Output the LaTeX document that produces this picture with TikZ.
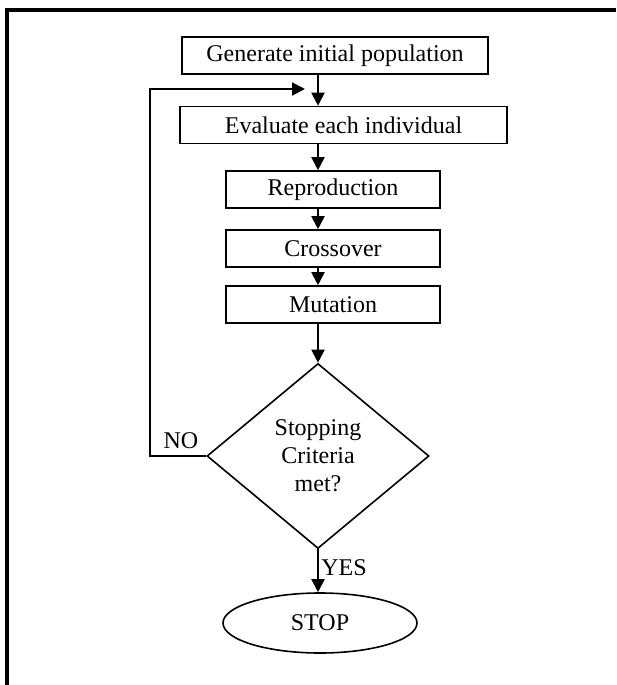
\documentclass[tikz,border=0pt]{standalone}
\usepackage{fontspec}
\setmainfont{Liberation Serif}
\usetikzlibrary{arrows.meta,shapes.geometric}

\begin{document}
\begin{tikzpicture}[x=0.5pt,y=-0.5pt,>={Triangle[length=6.5pt,width=6.5pt]},
  every node/.style={font=\fontsize{12}{14}\selectfont},
  stepbox/.style={draw,line width=0.8pt,inner sep=0pt,minimum height=18.5pt},
  flow/.style={->,line width=1pt}]
\useasboundingbox (0,0) rectangle (616,685);
% frame
\draw[line width=1.75pt] (7,685)--(7,10)--(616,10);
% steps
\node[stepbox,minimum width=153pt] (gen) at (335,55.5) {Generate initial population};
\node[stepbox,minimum width=163.5pt] (eval) at (343.5,125) {Evaluate each individual};
\node[stepbox,minimum width=107pt] (repr) at (333,189.5) {Reproduction};
\node[stepbox,minimum width=107pt] (cross) at (333,248.5) {Crossover};
\node[stepbox,minimum width=107pt] (mut) at (333,304.5) {Mutation};
\node[draw,line width=0.8pt,diamond,inner sep=0pt,minimum width=111pt,minimum height=92.5pt,align=center] (stopq) at (318,456) {Stopping\\Criteria\\met?};
\node[draw,line width=0.8pt,ellipse,inner sep=0pt,minimum width=97pt,minimum height=30pt] (stop) at (320,623) {STOP};
\node (no) at (181,441) {NO};
\node (yes) at (344,568) {YES};
% main flow
\coordinate (axis) at (318,0);
\draw[flow] (gen.south -| axis)--(eval.north -| axis);
\draw[flow] (eval.south -| axis)--(repr.north -| axis);
\draw[flow] (repr.south -| axis)--(cross.north -| axis);
\draw[flow] (cross.south -| axis)--(mut.north -| axis);
\draw[flow] (mut.south -| axis)--(stopq.north);
\draw[flow] (stopq.south)--(stop.north -| stopq.south);
% loop back
\coordinate (fbcorner) at (150,89);
\coordinate (fbtip) at (305,89);
\draw[flow] (stopq.west) -| (fbcorner)--(fbtip);
\end{tikzpicture}
\end{document}
